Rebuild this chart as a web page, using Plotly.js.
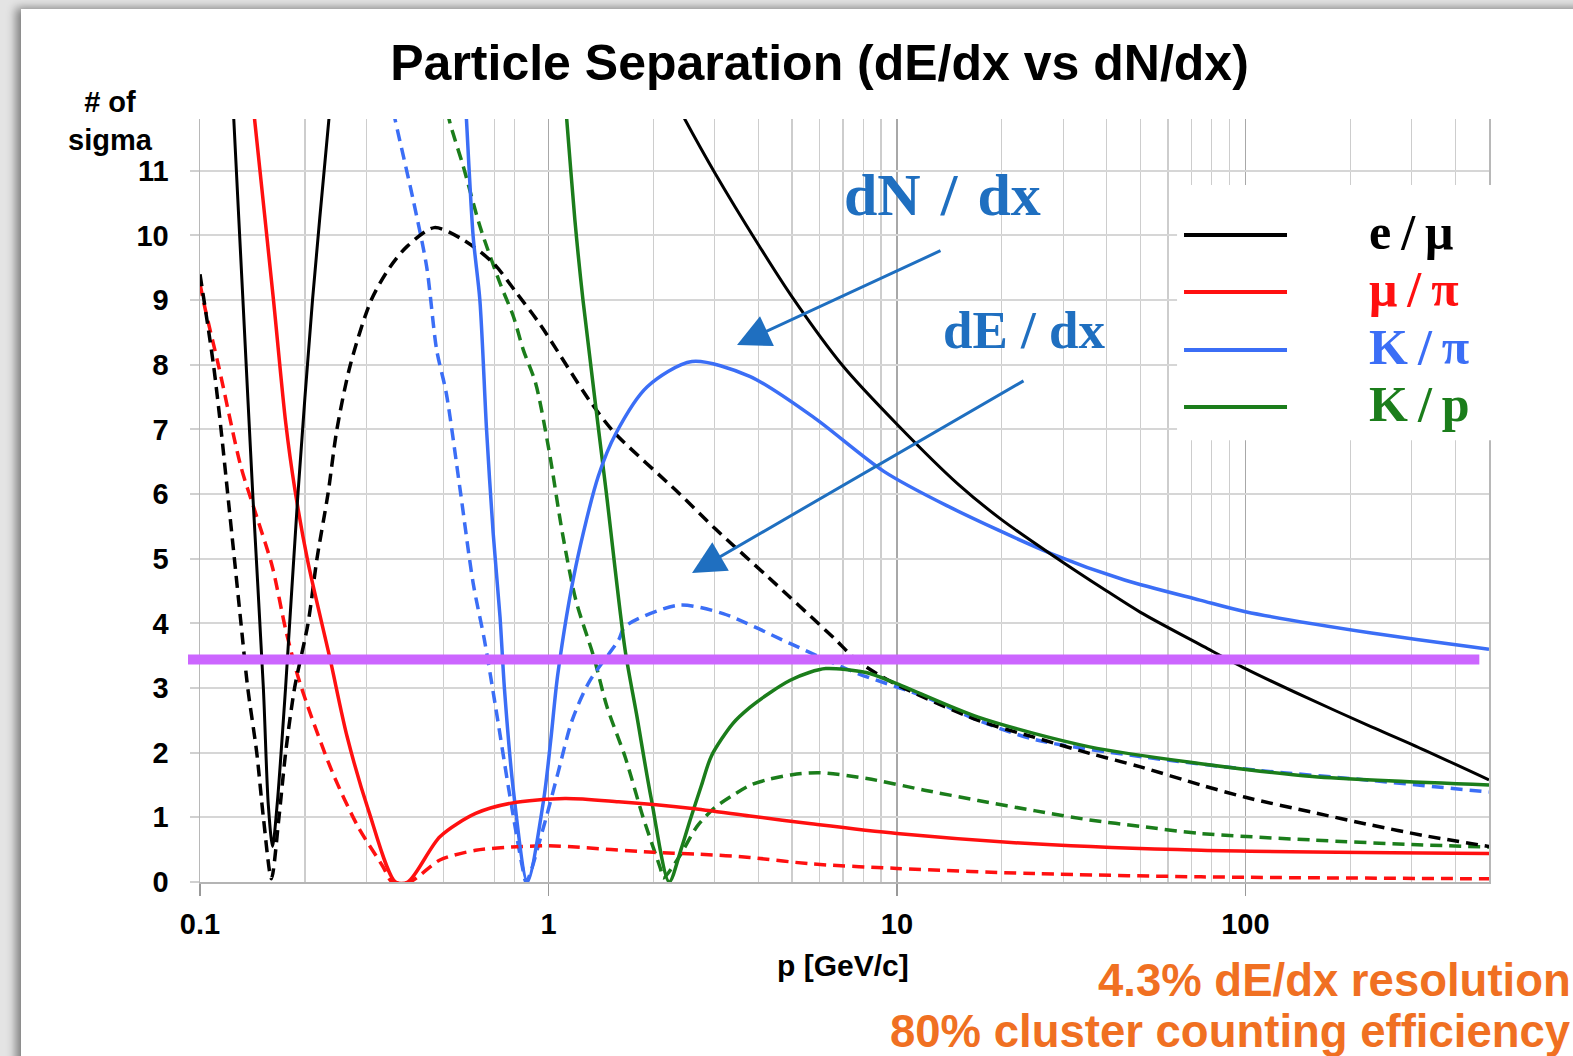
<!DOCTYPE html>
<html>
<head>
<meta charset="utf-8">
<script src="https://cdn.plot.ly/plotly-3.0.1.min.js"></script>
<style>
  html, body { margin:0; padding:0; overflow:hidden; background:#e4e4e4; }
  #card { position:absolute; left:21px; top:9px; width:1600px; height:1100px; background:#ffffff;
          box-shadow:-5px -1px 9px rgba(0,0,0,0.45); }
  #chart { position:absolute; left:0; top:0; width:1573px; height:1056px; }
</style>
</head>
<body>
<div id="card"></div>
<div id="chart"></div>
<script>
// ---------------- data (momentum p in GeV/c, separation in # of sigma) ----------------
// e/mu, cluster counting (dN/dx) - solid
const emu_dN_p = [0.123, 0.125, 0.1328, 0.1417, 0.152, 0.157, 0.1615, 0.1665, 0.176, 0.191, 0.2103, 0.2344, 0.242, null,
                  2.2, 2.46, 3, 4, 5, 7, 10, 15, 20, 28, 40, 50, 76, 100, 150, 230, 300, 500];
const emu_dN_s = [12.6, 11.8, 9, 6, 3, 1.2, 0.55, 1.2, 3, 6, 9, 11.8, 12.6, null,
                  12.3, 11.8, 10.97, 9.86, 9.05, 7.98, 7.08, 6.15, 5.6, 5.05, 4.5, 4.17, 3.64, 3.3, 2.85, 2.4, 2.13, 1.58];
// e/mu, dE/dx - dashed
const emu_dE_p = [0.1, 0.1093, 0.1149, 0.1201, 0.1255, 0.1311, 0.1371, 0.1455, 0.152, 0.1603, 0.1685, 0.1761, 0.1868,
                  0.2042, 0.2166, 0.2329, 0.2471, 0.2701, 0.31, 0.35, 0.393, 0.47, 0.57, 0.695, 0.81, 0.947, 1.31, 1.54,
                  2.36, 3.0, 4.26, 6.6, 7.67, 9.6, 17.1, 24.7, 35.7, 50, 74.5, 100, 155, 230, 324, 500];
const emu_dE_s = [9.4, 8.0, 7.0, 6.0, 5.0, 4.0, 3.0, 2.0, 1.0, 0.05, 1.0, 2.0, 3.0,
                  4.0, 5.0, 6.0, 7.0, 8.0, 9.0, 9.5, 9.83, 10.12, 9.93, 9.57, 9.11, 8.62, 7.45, 6.96,
                  6.02, 5.47, 4.72, 3.77, 3.43, 3.1, 2.5, 2.24, 1.99, 1.78, 1.5, 1.31, 1.08, 0.88, 0.72, 0.55];
// mu/pi
const mupi_dN_p = [0.139, 0.1434, 0.1625, 0.1762, 0.1868, 0.204, 0.2362, 0.2643, 0.3048, 0.3636, 0.395, 0.488, 0.618,
                   0.7825, 1.115, 1.589, 2.547, 3.785, 5.68, 10, 24.7, 74.5, 500];
const mupi_dN_s = [12.5, 11.8, 9.0, 7.1, 6.1, 4.95, 3.45, 2.25, 1.1, 0.0, 0.0, 0.70, 1.06,
                   1.22, 1.29, 1.24, 1.14, 1.02, 0.90, 0.75, 0.59, 0.49, 0.44];
const mupi_dE_p = [0.1, 0.1036, 0.1132, 0.1311, 0.1455, 0.1612, 0.1762, 0.19, 0.204, 0.2406, 0.2838, 0.3348, 0.356,
                   0.3995, 0.488, 0.618, 0.7825, 1.0, 1.115, 2.0, 2.72, 3.78, 5.68, 10, 24.7, 74.5, 500];
const mupi_dE_s = [9.25, 8.85, 7.97, 6.42, 5.65, 4.88, 3.9, 3.22, 2.71, 1.68, 0.86, 0.24, 0.0,
                   0.0, 0.34, 0.49, 0.54, 0.56, 0.55, 0.46, 0.43, 0.38, 0.28, 0.21, 0.13, 0.08, 0.05];
// K/pi
const kpi_dN_p = [0.572, 0.5815, 0.608, 0.6355, 0.6643, 0.694, 0.726, 0.748, 0.793, 0.87, 0.968, 1.015, 1.064,
                  1.198, 1.389, 1.562, 1.921, 2.58, 3.78, 5.72, 9.17, 13.9, 27.7, 45, 74, 100, 230, 500];
const kpi_dN_s = [12.5, 11.8, 9.98, 9.0, 6.99, 5.39, 4.1, 2.97, 1.42, 0.0, 1.26, 2.19, 3.22,
                  4.88, 6.27, 6.94, 7.66, 8.05, 7.82, 7.2, 6.35, 5.82, 5.08, 4.67, 4.36, 4.18, 3.85, 3.6];
const kpi_dE_p = [0.34, 0.3626, 0.409, 0.447, 0.4776, 0.509, 0.5564, 0.608, 0.655, 0.705, 0.77, 0.841, 0.863, 0.968,
                  1.064, 1.169, 1.31, 1.589, 1.658, 2.36, 3.17, 4.93, 7.67, 11.96, 17.1, 25, 51.5, 107.6, 230, 500];
const kpi_dE_s = [12.5, 11.8, 10.55, 9.52, 8.23, 7.56, 6.11, 4.62, 3.74, 2.71, 1.42, 0.24, 0.0, 0.85,
                  1.68, 2.5, 3.1, 3.74, 3.95, 4.28, 4.15, 3.69, 3.23, 2.87, 2.5, 2.2, 1.93, 1.73, 1.57, 1.39];
// K/p
const kp_dN_p = [1.1, 1.128, 1.19, 1.256, 1.467, 1.658, 1.789, 1.97, 2.22, 2.4, 2.547, 2.75, 2.935, 3.38, 3.785,
                 4.3, 4.94, 5.6, 6.25, 8.15, 9.86, 17.1, 35.7, 74.5, 155.6, 500];
const kp_dN_s = [12.45, 11.8, 10.25, 9.0, 6.0, 3.6, 2.6, 1.3, 0.0, 0.5, 0.95, 1.5, 1.95, 2.45, 2.7,
                 2.92, 3.12, 3.24, 3.30, 3.24, 3.08, 2.55, 2.09, 1.83, 1.63, 1.50];
const kp_dE_p = [0.5, 0.5216, 0.5694, 0.6358, 0.726, 0.7926, 0.8467, 0.919, 1.003, 1.097, 1.198, 1.349, 1.472, 1.658,
                 1.866, 2.1, 2.133, 2.373, 2.669, 3.0, 3.4, 3.8, 4.23, 5.0, 6.0, 8.2, 12, 17.1, 25, 35.7, 50, 74.5,
                 155, 300, 500];
const kp_dE_s = [12.2, 11.74, 11.07, 10.14, 9.26, 8.75, 8.23, 7.71, 6.68, 5.39, 4.36, 3.48, 2.71, 1.94,
                 1.01, 0.19, 0.06, 0.39, 0.86, 1.15, 1.35, 1.5, 1.58, 1.66, 1.69, 1.60, 1.42, 1.26, 1.10, 0.96, 0.86, 0.75,
                 0.65, 0.58, 0.54];

const threshold = 3.44;               // purple reference line (# of sigma)
const xTickVals = [0.1, 1, 10, 100];
const xTickText = ['0.1', '1', '10', '100'];
const xMinorVals = [0.2, 0.3, 0.5, 0.7, 0.8, 2, 3, 4, 5, 6, 7, 8, 9, 20, 30, 40, 50, 60, 70, 80, 90, 200, 300, 400];
const yTickVals = [0, 1, 2, 3, 4, 5, 6, 7, 8, 9, 10, 11];
const legendNames = ['e\u2009/\u2009μ', 'μ\u2009/\u2009π', 'K\u2009/\u2009π', 'K\u2009/\u2009p'];

// ---------------- styling ----------------
const C = { emu:'#000000', mupi:'#ff1010', kpi:'#3b6ef6', kp:'#1b7d1b' };
const DASH = '12px,7px';
function tr(p, s, color, dashed, w) {
  return { x:p, y:s, type:'scatter', mode:'lines', connectgaps:false, hoverinfo:'skip',
           line:{ color:color, width:w || 3.5, dash: dashed ? DASH : 'solid', shape:'spline', smoothing:0.8 } };
}
const traces = [
  tr(kp_dE_p, kp_dE_s, C.kp, true),
  tr(kpi_dE_p, kpi_dE_s, C.kpi, true),
  tr(mupi_dE_p, mupi_dE_s, C.mupi, true),
  tr(emu_dE_p, emu_dE_s, C.emu, true),
  tr(kp_dN_p, kp_dN_s, C.kp, false),
  tr(kpi_dN_p, kpi_dN_s, C.kpi, false),
  tr(mupi_dN_p, mupi_dN_s, C.mupi, false),
  tr(emu_dN_p, emu_dN_s, C.emu, false, 3)
];

const SANS = 'Liberation Sans, Arial, Helvetica, sans-serif';
const SERIF = 'Liberation Serif, Times New Roman, serif';
const tickFont = { family:SANS, size:29, color:'#000', weight:'bold' };

const legendColors = [C.emu, C.mupi, C.kpi, C.kp];
const legendY = [0.848, 0.7733, 0.6972, 0.6225];

const shapes = [
  // white box behind the legend
  { type:'rect', xref:'paper', yref:'paper', x0:0.758, x1:1.02, y0:0.579, y1:0.9135,
    fillcolor:'#ffffff', line:{width:0}, layer:'above' },
  // threshold line
  { type:'line', xref:'paper', yref:'y', x0:-0.0093, x1:0.9925, y0:threshold, y1:threshold,
    line:{ color:'#cc66ff', width:10 }, layer:'above' }
];
legendY.forEach((y, i) => shapes.push({ type:'line', xref:'paper', yref:'paper', x0:0.7634, x1:0.8433,
  y0:y, y1:y, line:{ color:legendColors[i], width:4 }, layer:'above' }));

const annotations = [
  { xref:'paper', yref:'paper', x:-0.0698, y:0.9974, xanchor:'center', yanchor:'middle', showarrow:false,
    text:'# of<br>sigma', align:'center', font:{ family:SANS, size:29, color:'#000', weight:'bold' } },
  { xref:'paper', yref:'paper', x:0.4988, y:-0.1088, xanchor:'center', yanchor:'middle', showarrow:false,
    text:'p [GeV/c]', font:{ family:SANS, size:30, color:'#000', weight:'bold' } },
  { xref:'paper', yref:'paper', x:1.0655, y:-0.1285, xanchor:'right', yanchor:'middle', showarrow:false,
    text:'4.3% dE/dx resolution', font:{ family:SANS, size:45.5, color:'#f07022', weight:'bold' } },
  { xref:'paper', yref:'paper', x:1.0655, y:-0.196, xanchor:'right', yanchor:'middle', showarrow:false,
    text:'80% cluster counting efficiency', font:{ family:SANS, size:45.5, color:'#f07022', weight:'bold' } },
  { xref:'paper', yref:'paper', x:0.5764, y:0.9004, xanchor:'center', yanchor:'middle', showarrow:false,
    text:'dN\u2004/\u2004dx', font:{ family:SERIF, size:60, color:'#1f6fc0', weight:'bold' } },
  { xref:'paper', yref:'paper', x:0.6397, y:0.7235, xanchor:'center', yanchor:'middle', showarrow:false,
    text:'dE / dx', font:{ family:SERIF, size:53, color:'#1f6fc0', weight:'bold' } },
  // arrows
  { xref:'paper', yref:'paper', x:0.4166, y:0.7038, ax:205, ay:-95, text:'', showarrow:true,
    arrowhead:2, arrowsize:2.2, arrowwidth:3, arrowcolor:'#1f6fc0', standoff:0, startstandoff:0 },
  { xref:'paper', yref:'paper', x:0.3817, y:0.405, ax:333, ay:-193, text:'', showarrow:true,
    arrowhead:2, arrowsize:2.2, arrowwidth:3, arrowcolor:'#1f6fc0', standoff:0, startstandoff:0 }
];
legendNames.forEach((n, i) => annotations.push({ xref:'paper', yref:'paper', x:0.905, y:legendY[i] + 0.004,
  xanchor:'left', yanchor:'middle', showarrow:false, text:n,
  font:{ family:SERIF, size:50, color:legendColors[i], weight:'bold' } }));

const layout = {
  width:1573, height:1056,
  margin:{ l:200, r:84, t:119, b:174, pad:0 },
  paper_bgcolor:'rgba(0,0,0,0)', plot_bgcolor:'#ffffff',
  showlegend:false,
  title:{ text:'Particle Separation (dE/dx vs dN/dx)', xref:'container', yref:'container',
          x:0.521, xanchor:'center', y:0.941, yanchor:'middle',
          font:{ family:SANS, size:50, color:'#000', weight:'bold' } },
  xaxis:{ type:'log', range:[-1, Math.log10(500)], tickmode:'array', tickvals:xTickVals, ticktext:xTickText,
          ticks:'outside', ticklen:12, tickwidth:1.5, tickcolor:'#999999',
          showgrid:true, gridcolor:'#a8a8a8', gridwidth:1.3,
          showline:true, linecolor:'#b4b4b4', linewidth:2, zeroline:false,
          tickfont:tickFont, ticklabelstandoff:3,
          minor:{ tickmode:'array', tickvals:xMinorVals, showgrid:true, gridcolor:'#cdcdcd', gridwidth:1.3, ticks:'' } },
  yaxis:{ range:[0, 11.8], tickmode:'array', tickvals:yTickVals,
          ticks:'outside', ticklen:9, tickwidth:2, tickcolor:'#d0d0d0',
          showgrid:true, gridcolor:'#d6d6d6', gridwidth:2, zeroline:false,
          showline:true, mirror:true, linecolor:'#b8b8b8', linewidth:1.5,
          tickfont:tickFont, ticklabelstandoff:15 },
  shapes:shapes,
  annotations:annotations
};

Plotly.newPlot('chart', traces, layout, { staticPlot:true, displayModeBar:false });
</script>
</body>
</html>
